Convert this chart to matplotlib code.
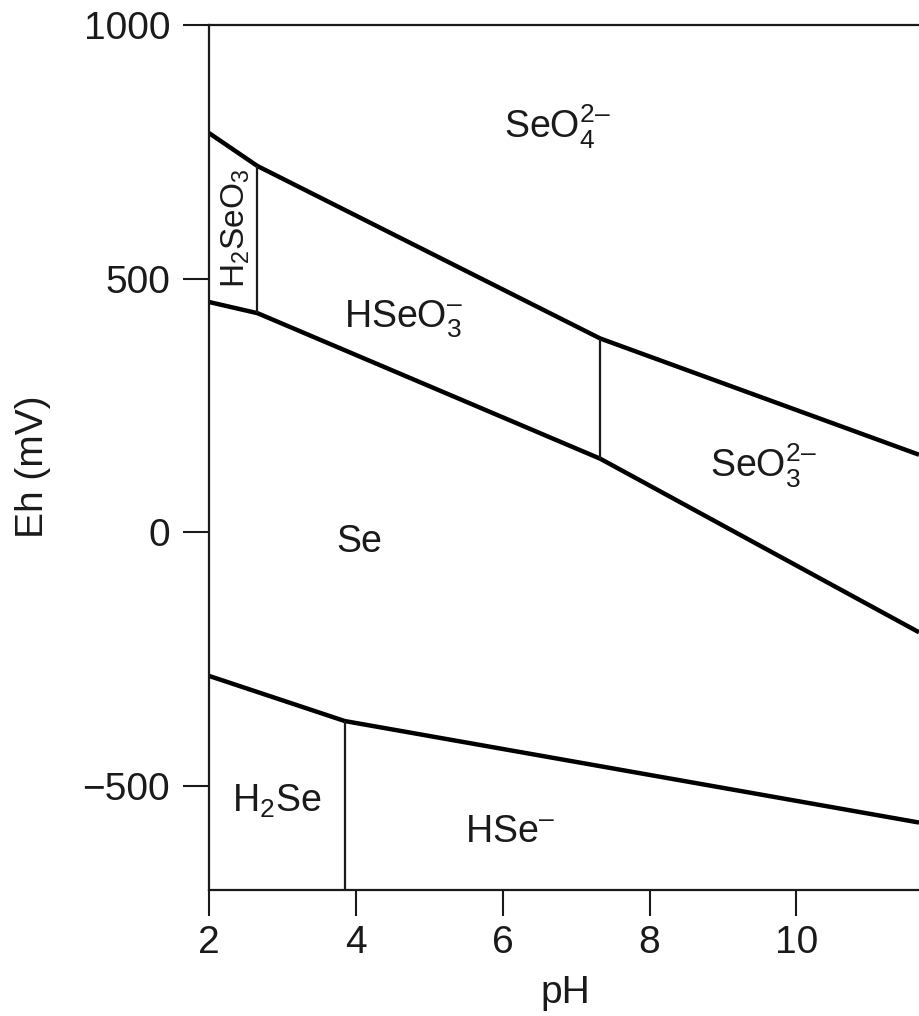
import matplotlib
matplotlib.use("Agg")
import matplotlib.pyplot as plt

plt.rcParams['font.family'] = ['Liberation Sans', 'DejaVu Sans']
plt.rcParams['mathtext.fontset'] = 'custom'
plt.rcParams['mathtext.rm'] = 'Liberation Sans'
plt.rcParams['mathtext.it'] = 'Liberation Sans:italic'
plt.rcParams['mathtext.bf'] = 'Liberation Sans:bold'

# Boundary lines (pH, Eh in mV)
pH_upper = [2.0, 2.66, 7.33, 11.67]
Eh_upper = [787, 722, 382, 153]
pH_middle = [2.0, 2.66, 7.33, 11.67]
Eh_middle = [454, 432, 145, -197]
pH_lower = [2.0, 3.85, 11.67]
Eh_lower = [-283, -372, -572]

# Vertical boundaries: pH, Eh bottom, Eh top
vert_pH = [2.66, 7.33, 3.85]
vert_Eh_bottom = [432, 145, -705]
vert_Eh_top = [722, 382, -372]

# Field labels
labels = ['$\\mathrm{SeO_4^{2\u2013}}$', '$\\mathrm{HSeO_3^{\u2013}}$', '$\\mathrm{SeO_3^{2\u2013}}$',
          'Se', '$\\mathrm{H_2Se}$', '$\\mathrm{HSe^{\u2013}}$']
label_pH = [6.75, 4.65, 9.55, 4.05, 2.92, 6.1]
label_Eh = [800, 420, 130, -20, -530, -590]

h2seo3_label = r'$\mathrm{H_2SeO_3}$'
h2seo3_pH, h2seo3_Eh = 2.36, 600

xticks = [2, 4, 6, 8, 10]
yticks = [-500, 0, 500, 1000]
ytick_labels = ['\u2212500', '0', '500', '1000']

W, H = 919, 1016
fig = plt.figure(figsize=(W / 100, H / 100), dpi=100)
ax = fig.add_axes([209 / W, 1 - 890 / H, (919 - 209) / W, (890 - 25) / H])

ink = '#1a1a1a'
ax.plot(pH_upper, Eh_upper, color='black', lw=3.2, solid_capstyle='butt')
ax.plot(pH_middle, Eh_middle, color='black', lw=3.2, solid_capstyle='butt')
ax.plot(pH_lower, Eh_lower, color='black', lw=3.2, solid_capstyle='butt')
ax.vlines(vert_pH, vert_Eh_bottom, vert_Eh_top, color=ink, lw=1.6)

fs = 27
for t, x, y in zip(labels, label_pH, label_Eh):
    ax.text(x, y, t, ha='center', va='center', fontsize=fs, color=ink)
ax.text(h2seo3_pH, h2seo3_Eh, h2seo3_label, ha='center', va='center',
        rotation=90, fontsize=24, color=ink)

ax.set_xlim(2, 11.67)
ax.set_ylim(-705, 1000)
ax.set_xticks(xticks)
ax.set_yticks(yticks)
ax.set_yticklabels(ytick_labels)
ax.tick_params(axis='both', direction='out', length=19, width=1.5, colors=ink,
               labelsize=28, labelcolor=ink)
ax.tick_params(axis='y', pad=9)
ax.tick_params(axis='x', pad=6)
for s in ['left', 'bottom', 'top']:
    ax.spines[s].set_linewidth(1.6)
    ax.spines[s].set_color(ink)
ax.spines['right'].set_visible(False)

fig.text(33 / W, 1 - 467 / H, 'Eh (mV)', rotation=90, ha='center', va='center',
         fontsize=28, color=ink)
fig.text(565 / W, 1 - 993 / H, 'pH', ha='center', va='center', fontsize=28, color=ink)

fig.savefig('out.png', dpi=100)
